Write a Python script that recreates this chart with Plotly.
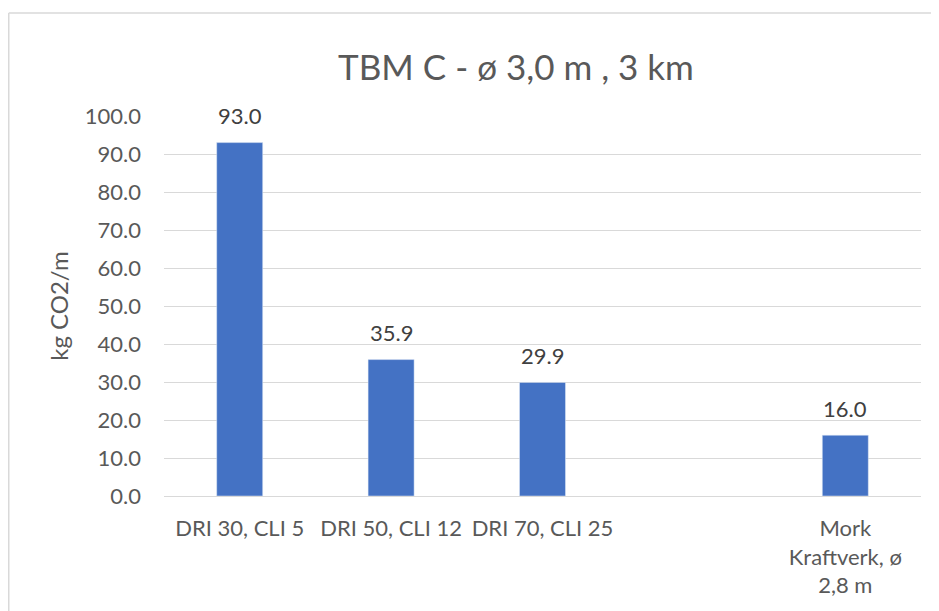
import plotly.graph_objects as go

categories = ["DRI 30, CLI 5", "DRI 50, CLI 12", "DRI 70, CLI 25", " ", "Mork<br>Kraftverk, ø<br>2,8 m"]
values = [93.0, 35.9, 29.9, None, 16.0]
labels = ["93.0", "35.9", "29.9", "", "16.0"]
y_ticks = [0, 10, 20, 30, 40, 50, 60, 70, 80, 90, 100]

FONT = "Lato, 'Open Sans', sans-serif"

fig = go.Figure()
fig.add_trace(go.Bar(
    x=categories, y=values,
    marker=dict(color="#4472C4"),
))

for c, v, t in zip(categories, values, labels):
    if v is None:
        continue
    fig.add_annotation(x=c, y=v, text=t, showarrow=False, yanchor="middle",
                       yshift=27, font=dict(family=FONT, size=22, color="#404040"))

# page has an 8px body margin; figure coordinates are page - 8
W, H = 931, 603
L, R, T, B = 156, 18, 108, 115
pw = W - L - R
ph = H - T - B

fig.update_layout(
    width=W, height=H,
    margin=dict(l=L, r=R, t=T, b=B),
    paper_bgcolor="white", plot_bgcolor="white",
    bargap=0.696,
    showlegend=False,
    title=dict(text="TBM C - ø 3,0 m , 3 km", x=508 / W, xanchor="center",
               y=1 - 60 / H, yanchor="middle",
               font=dict(family=FONT, size=35, color="#595959")),
    xaxis=dict(type="category", showgrid=False, showline=False, ticks="",
               tickfont=dict(family=FONT, size=22, color="#595959"), ticklabelstandoff=17),
    yaxis=dict(range=[0, 100], tickvals=y_ticks, ticktext=[f"{v:.1f}" for v in y_ticks],
               showgrid=True, gridcolor="#D9D9D9", gridwidth=1, zeroline=True,
               zerolinecolor="#D9D9D9", zerolinewidth=1,
               tickfont=dict(family=FONT, size=22, color="#595959"), ticklabelstandoff=22,
               title=dict(text="kg CO2/m", font=dict(family=FONT, size=24, color="#595959"), standoff=9)),
)

# chart border (top and left edges visible)
x_left = (0.75 - L) / pw
y_top = (H - B - 5) / ph
fig.add_shape(type="line", xref="paper", yref="paper", x0=x_left, x1=(W - L) / pw + 0.05,
              y0=y_top, y1=y_top, line=dict(color="#D9D9D9", width=1.5))
fig.add_shape(type="line", xref="paper", yref="paper", x0=x_left, x1=x_left,
              y0=y_top, y1=-B / ph - 0.05, line=dict(color="#D9D9D9", width=1.5))

fig.write_html("out.html")
